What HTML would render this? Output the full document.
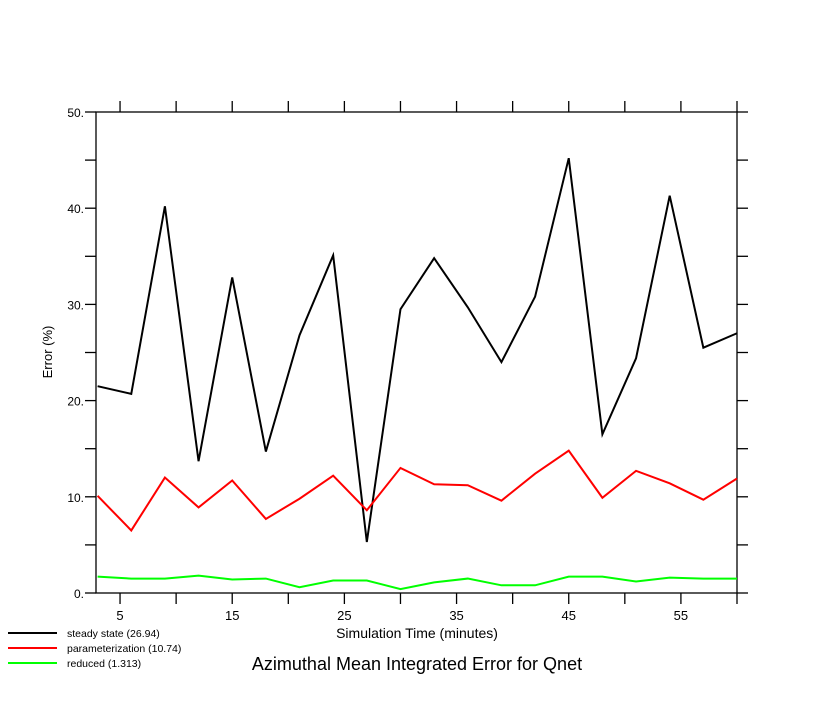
<!DOCTYPE html>
<html><head><meta charset="utf-8"><style>
body{margin:0;background:#fff;}
svg{display:block;font-family:"Liberation Sans","DejaVu Sans",sans-serif;}
</style></head><body>
<svg id="chart" width="819" height="706"></svg>
<script>
const xValues=[3,6,9,12,15,18,21,24,27,30,33,36,39,42,45,48,51,54,57,60];
const steadyState=[21.5,20.7,40.2,13.7,32.8,14.7,26.8,35.1,5.3,29.5,34.8,29.7,24.0,30.8,45.2,16.5,24.4,41.3,25.5,27.0];
const parameterization=[10.1,6.5,12.0,8.9,11.7,7.7,9.8,12.2,8.6,13.0,11.3,11.2,9.6,12.4,14.8,9.9,12.7,11.4,9.7,11.9];
const reduced=[1.7,1.5,1.5,1.8,1.4,1.5,0.6,1.3,1.3,0.4,1.1,1.5,0.8,0.8,1.7,1.7,1.2,1.6,1.5,1.5];
const xTickLabels=[5,15,25,35,45,55];
const yTickLabels=["0.","10.","20.","30.","40.","50."];
const legendLabels=["steady state (26.94)","parameterization (10.74)","reduced (1.313)"];

const NS="http://www.w3.org/2000/svg";
const svg=document.getElementById('chart');
const L=96,R=737,T=112,B=593;
const X0=2.857,X1=60;
const sx=v=>L+(v-X0)/(X1-X0)*(R-L);
const sy=v=>B-v/50*(B-T);
function mk(tag,at,parent){const e=document.createElementNS(NS,tag);for(const k in at)e.setAttribute(k,at[k]);(parent||svg).appendChild(e);return e;}

const frame=mk('rect',{x:L,y:T,width:R-L,height:B-T,fill:'none',stroke:'#000','stroke-width':1.3});



for(let v=5;v<=60;v+=5){
  const x=sx(v);
  const t1=mk('line',{x1:x,y1:B,x2:x,y2:B+11,stroke:'#000','stroke-width':1.3});
  
  
  const t2=mk('line',{x1:x,y1:T,x2:x,y2:T-11,stroke:'#000','stroke-width':1.3});
  
  
}
xTickLabels.forEach(v=>{
  const t=mk('text',{x:sx(v),y:B+27,'text-anchor':'middle','font-size':13});
  t.textContent=v;
  
  
});
for(let v=0;v<=50;v+=5){
  const y=sy(v);
  const a=mk('line',{x1:L-11,y1:y,x2:L,y2:y,stroke:'#000','stroke-width':1.3});
  
  
  const b=mk('line',{x1:R,y1:y,x2:R+11,y2:y,stroke:'#000','stroke-width':1.3});
  
  
}
yTickLabels.forEach((s,i)=>{
  const t=mk('text',{x:84,y:sy(i*10)+5,'text-anchor':'end','font-size':12});
  t.textContent=s;
  
  
});
const yt=mk('text',{x:52,y:352,'text-anchor':'middle','font-size':13,transform:'rotate(-90 52 352)'});
yt.textContent='Error (%)';


const xt=mk('text',{x:417,y:638,'text-anchor':'middle','font-size':14});
xt.textContent='Simulation Time (minutes)';


const title=mk('text',{x:417,y:670,'text-anchor':'middle','font-size':18});
title.textContent='Azimuthal Mean Integrated Error for Qnet';



const series=[[steadyState,'#000','steady-state-line'],[parameterization,'#f00','parameterization-line'],[reduced,'#0f0','reduced-line']];
series.forEach(([d,c,n])=>{
  const p=mk('polyline',{points:d.map((v,i)=>sx(xValues[i])+','+sy(v)).join(' '),fill:'none',stroke:c,'stroke-width':2});
  
  
});
const ly=[633,648,663];
legendLabels.forEach((s,i)=>{
  const g=mk('g',{});
  
  
  mk('line',{x1:8,y1:ly[i],x2:57,y2:ly[i],stroke:series[i][1],'stroke-width':2},g);
  const t=mk('text',{x:67,y:ly[i]+4,'font-size':10.5},g);
  t.textContent=s;
});
</script>
</body></html>
